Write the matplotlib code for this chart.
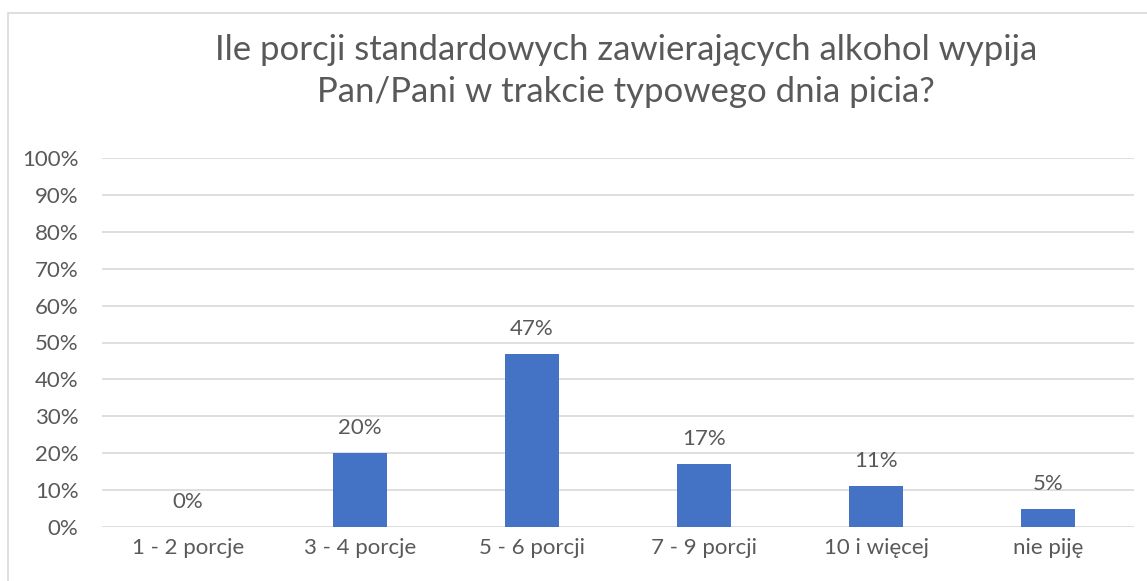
import matplotlib.pyplot as plt
from matplotlib.patches import Rectangle
from matplotlib.ticker import FuncFormatter

title = "Ile porcji standardowych zawierających alkohol wypija\nPan/Pani w trakcie typowego dnia picia?"
categories = ["1 - 2 porcje", "3 - 4 porcje", "5 - 6 porcji", "7 - 9 porcji", "10 i więcej", "nie piję"]
values = [0, 20, 47, 17, 11, 5]

plt.rcParams['font.family'] = ['Lato', 'DejaVu Sans']
text_color = "#595959"
bar_color = "#4472C4"
grid_color = "#D9D9D9"

W, H = 1147, 581
fig = plt.figure(figsize=(W / 100, H / 100), dpi=100)

# chart frame (runs off the right and bottom edges)
fig.patches.append(Rectangle((8 / W, -0.05), 1.2, 1 - 13 / H + 0.05,
                             transform=fig.transFigure, fill=False,
                             edgecolor="#D9D9D9", linewidth=1.2))

left, right = 102 / W, 1134 / W
bottom, top = 1 - 527 / H, 1 - 158 / H
ax = fig.add_axes([left, bottom, right - left, top - bottom])

x = list(range(len(categories)))
ax.bar(x, values, width=0.31, color=bar_color, zorder=3)
for xi, v in zip(x, values):
    ax.annotate(f"{v}%", (xi, v), xytext=(0, 18), textcoords="offset points",
                ha="center", va="center", fontsize=16, color=text_color)

ax.set_xlim(-0.5, len(categories) - 0.5)
ax.set_ylim(0, 100)
ax.set_yticks(range(0, 101, 10))
ax.yaxis.set_major_formatter(FuncFormatter(lambda v, p: f"{v:.0f}%"))
ax.set_xticks(x)
ax.set_xticklabels(categories)
ax.grid(axis="y", color=grid_color, linewidth=1.2, zorder=0)
for s in ax.spines.values():
    s.set_visible(False)
ax.tick_params(axis="both", length=0, labelsize=16, labelcolor=text_color)
ax.tick_params(axis="y", pad=17)
ax.tick_params(axis="x", pad=8)

fig.text(626 / W, 1 - 71 / H, title, ha="center", va="center",
         fontsize=25, color=text_color, linespacing=1.42)

fig.savefig("out.png", dpi=100)
